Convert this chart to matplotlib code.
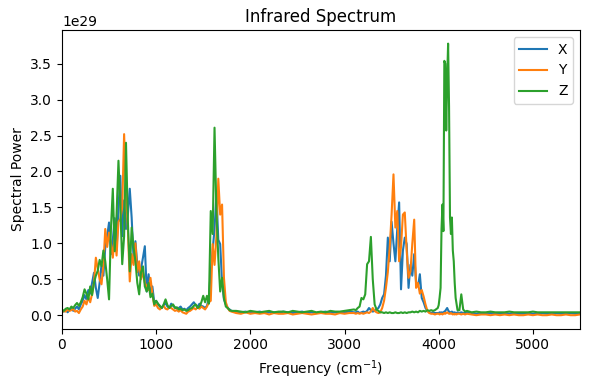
import numpy as np
import matplotlib
matplotlib.use('Agg')
import matplotlib.pyplot as plt

# frequency sampling (cm^-1): finer where the bands are
freq = np.concatenate([
    np.arange(0, 1801, 20),
    np.arange(1850, 3101, 50),
    np.arange(3120, 3981, 20),
    np.arange(3990, 4201, 10),
    np.arange(4220, 4301, 20),
    np.arange(4350, 5501, 50),
])

# spectral power, units of 1e29
power_x = [
    # 0 - 1800 step 20
    0.06, 0.05, 0.08, 0.04, 0.07, 0.10, 0.06, 0.09, 0.12, 0.08,
    0.15, 0.20, 0.28, 0.22, 0.35, 0.30, 0.45, 0.59, 0.38, 0.24,
    0.45, 0.70, 0.55, 0.95, 1.10, 1.29, 0.85, 1.05, 1.35, 0.90,
    1.50, 1.94, 1.10, 1.60, 1.20, 1.40, 1.76, 1.36, 0.80, 1.03,
    0.70, 0.55, 0.65, 0.80, 0.96, 0.33, 0.57, 0.30, 0.40, 0.18,
    0.20, 0.15, 0.12, 0.10, 0.14, 0.17, 0.12, 0.10, 0.16, 0.13,
    0.11, 0.09, 0.10, 0.12, 0.08, 0.09, 0.07, 0.10, 0.12, 0.15,
    0.18, 0.14, 0.12, 0.16, 0.13, 0.12, 0.10, 0.13, 0.25, 0.61,
    0.90, 1.20, 1.68, 1.05, 0.99, 0.45, 0.22, 0.15, 0.10, 0.08,
    0.06,
    # 1850 - 3100 step 50
    0.05, 0.04, 0.05, 0.03, 0.04, 0.05, 0.03, 0.04, 0.04, 0.03,
    0.05, 0.04, 0.03, 0.04, 0.05, 0.03, 0.04, 0.03, 0.04, 0.05,
    0.03, 0.04, 0.03, 0.04, 0.05, 0.04,
    # 3120 - 3980 step 20
    0.04, 0.05, 0.03, 0.04, 0.05, 0.04, 0.06, 0.10, 0.07, 0.05,
    0.06, 0.08, 0.10, 0.15, 0.24, 0.29, 0.55, 1.08, 0.75, 1.30,
    1.00, 0.75, 1.20, 1.57, 0.36, 0.90, 1.08, 0.99, 0.38, 0.70,
    0.55, 0.85, 0.45, 0.40, 0.57, 0.24, 0.18, 0.10, 0.06, 0.04,
    0.03, 0.04, 0.03, 0.03,
    # 3990 - 4200 step 10
    0.03, 0.03, 0.04, 0.03, 0.04, 0.03, 0.04, 0.05, 0.06, 0.08,
    0.10, 0.07, 0.05, 0.04, 0.04, 0.05, 0.04, 0.03, 0.04, 0.03,
    0.03, 0.04,
    # 4220 - 4300 step 20
    0.03, 0.04, 0.03, 0.03, 0.04,
    # 4350 - 5500 step 50
    0.03, 0.02, 0.03, 0.02, 0.03, 0.02, 0.02, 0.03, 0.02, 0.03,
    0.02, 0.02, 0.03, 0.02, 0.02, 0.03, 0.02, 0.02, 0.03, 0.02,
    0.02, 0.03, 0.02, 0.02,
]

power_y = [
    0.04, 0.06, 0.05, 0.08, 0.06, 0.07, 0.09, 0.05, 0.06, 0.03,
    0.08, 0.12, 0.20, 0.15, 0.25, 0.18, 0.30, 0.45, 0.80, 0.65,
    0.50, 0.43, 0.70, 1.20, 0.95, 1.15, 1.00, 0.80, 1.10, 0.83,
    1.30, 1.34, 1.50, 2.52, 1.70, 1.20, 0.47, 0.85, 0.70, 1.00,
    0.60, 0.75, 0.50, 0.60, 0.45, 0.40, 0.35, 0.52, 0.30, 0.13,
    0.15, 0.10, 0.08, 0.11, 0.13, 0.09, 0.08, 0.11, 0.10, 0.08,
    0.06, 0.07, 0.05, 0.07, 0.04, 0.03, 0.02, 0.05, 0.06, 0.08,
    0.10, 0.08, 0.11, 0.09, 0.12, 0.10, 0.08, 0.12, 0.18, 0.20,
    0.99, 0.70, 1.10, 1.90, 1.40, 1.54, 0.52, 0.18, 0.10, 0.06,
    0.05,
    0.03, 0.02, 0.04, 0.02, 0.03, 0.02, 0.03, 0.01, 0.03, 0.02,
    0.02, 0.03, 0.01, 0.02, 0.03, 0.02, 0.01, 0.02, 0.03, 0.02,
    0.02, 0.01, 0.03, 0.02, 0.03, 0.03,
    0.02, 0.03, 0.02, 0.03, 0.02, 0.03, 0.04, 0.03, 0.05, 0.10,
    0.06, 0.04, 0.03, 0.04, 0.10, 0.20, 0.38, 0.60, 0.94, 1.40,
    1.96, 1.22, 1.45, 0.75, 0.95, 1.40, 1.43, 0.90, 0.52, 0.61,
    1.00, 1.33, 0.38, 0.45, 0.30, 0.35, 0.26, 0.15, 0.06, 0.03,
    0.02, 0.02, 0.01, 0.02,
    0.02, 0.02, 0.01, 0.02, 0.02, 0.01, 0.02, 0.03, 0.02, 0.03,
    0.04, 0.03, 0.02, 0.02, 0.03, 0.02, 0.01, 0.02, 0.01, 0.02,
    0.01, 0.02,
    0.02, 0.01, 0.02, 0.01, 0.02,
    0.01, 0.00, 0.01, 0.01, 0.00, 0.01, 0.00, 0.01, 0.00, 0.01,
    0.00, 0.00, 0.01, 0.00, 0.01, 0.00, 0.00, 0.01, 0.00, 0.00,
    0.01, 0.00, 0.00, 0.01,
]

power_z = [
    0.08, 0.06, 0.09, 0.10, 0.08, 0.12, 0.10, 0.14, 0.17, 0.13,
    0.18, 0.25, 0.36, 0.30, 0.22, 0.40, 0.28, 0.45, 0.55, 0.62,
    0.77, 0.68, 0.90, 0.75, 0.50, 0.22, 1.20, 1.76, 0.89, 1.40,
    2.15, 1.50, 0.71, 1.10, 2.40, 1.30, 0.61, 1.22, 0.95, 0.75,
    0.45, 0.29, 0.60, 0.68, 0.40, 0.33, 0.45, 0.25, 0.30, 0.15,
    0.20, 0.16, 0.13, 0.10, 0.15, 0.22, 0.14, 0.10, 0.13, 0.15,
    0.10, 0.11, 0.08, 0.09, 0.07, 0.08, 0.06, 0.07, 0.09, 0.10,
    0.13, 0.15, 0.10, 0.12, 0.18, 0.27, 0.18, 0.27, 0.16, 1.45,
    1.13, 2.61, 1.45, 0.80, 0.33, 0.52, 0.24, 0.12, 0.10, 0.07,
    0.06,
    0.06, 0.05, 0.04, 0.06, 0.05, 0.04, 0.05, 0.06, 0.04, 0.05,
    0.05, 0.04, 0.06, 0.05, 0.04, 0.05, 0.06, 0.04, 0.05, 0.04,
    0.06, 0.05, 0.05, 0.06, 0.07, 0.08,
    0.07, 0.10, 0.12, 0.24, 0.22, 0.29, 0.71, 0.75, 1.09, 0.50,
    0.15, 0.08, 0.06, 0.04, 0.04, 0.03, 0.04, 0.03, 0.04, 0.03,
    0.03, 0.04, 0.03, 0.03, 0.04, 0.03, 0.04, 0.03, 0.04, 0.04,
    0.05, 0.04, 0.05, 0.04, 0.06, 0.05, 0.06, 0.05, 0.07, 0.06,
    0.07, 0.06, 0.07, 0.09,
    0.10, 0.14, 0.25, 0.38, 1.20, 1.54, 1.17, 3.54, 3.50, 2.57,
    3.30, 3.78, 2.90, 1.36, 1.13, 1.36, 0.90, 0.75, 0.45, 0.24,
    0.15, 0.07,
    0.07, 0.29, 0.08, 0.05, 0.06,
    0.04, 0.05, 0.04, 0.04, 0.05, 0.04, 0.04, 0.04, 0.05, 0.04,
    0.04, 0.04, 0.04, 0.05, 0.04, 0.04, 0.04, 0.04, 0.04, 0.04,
    0.04, 0.04, 0.04, 0.04,
]

scale = 1e29

fig, ax = plt.subplots(figsize=(5.9, 3.9), dpi=100)
ax.plot(freq, np.array(power_x) * scale, label='X')
ax.plot(freq, np.array(power_y) * scale, label='Y')
ax.plot(freq, np.array(power_z) * scale, label='Z')
ax.set_xlim(0, 5500)
ax.set_xlabel('Frequency (cm$^{-1}$)')
ax.set_ylabel('Spectral Power')
ax.set_title('Infrared Spectrum')
ax.legend(loc='upper right')
fig.subplots_adjust(left=0.105, right=0.983, top=0.923, bottom=0.157)
fig.savefig('out.png')
